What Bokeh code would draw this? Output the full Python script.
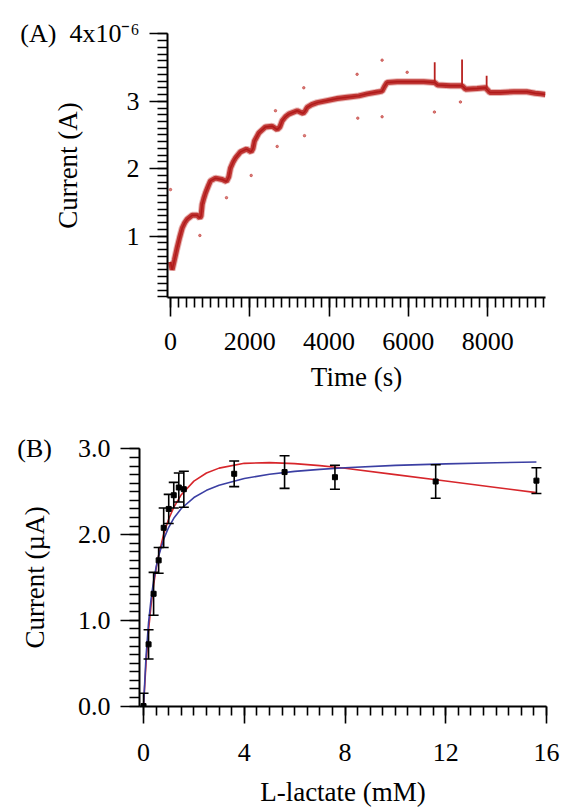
from bokeh.plotting import figure
from bokeh.models import SingleIntervalTicker, Range1d, NumeralTickFormatter
from bokeh.embed import file_html
from bokeh.resources import INLINE

FONT = "Liberation Serif"

# ---------------- Panel A: amperometric trace ----------------
time_s = [0, 40, 100, 168, 230, 295, 360, 420, 547, 673, 740, 770, 799, 840, 883, 950,
          1009, 1135, 1303, 1412, 1470, 1513, 1580, 1639, 1765, 1917, 2035, 2080, 2118,
          2228, 2396, 2565, 2691, 2760, 2817, 2900, 2984, 3195, 3346, 3400, 3447, 3560,
          3699, 3951, 4204, 4456, 4750, 4960, 5253, 5338, 5400, 5464, 5717, 6053, 6389,
          6641, 6680, 6742, 7062, 7331, 7375, 7440, 7735, 7944, 8010,
          8053, 8323, 8659, 8995, 9200, 9330, 9457]
current_uA = [0.62, 0.50, 0.65, 0.83, 0.98, 1.12, 1.20, 1.25, 1.31, 1.31, 1.27, 1.30,
              1.47, 1.56, 1.64, 1.74, 1.82, 1.86, 1.84, 1.81, 1.88, 2.01, 2.10, 2.16,
              2.25, 2.29, 2.25, 2.30, 2.41, 2.53, 2.62, 2.63, 2.58, 2.62, 2.71, 2.77,
              2.81, 2.86, 2.82, 2.86, 2.91, 2.95, 2.98, 3.01, 3.04, 3.06, 3.08, 3.11,
              3.14, 3.15, 3.22, 3.28, 3.29, 3.29, 3.29, 3.28, 3.27, 3.24, 3.23,
              3.23, 3.22, 3.18, 3.19, 3.20, 3.16, 3.13, 3.13, 3.14, 3.14,
              3.12, 3.11, 3.10]
# sharp injection spikes
spike_t = [6665, 7355, 7975]
spike_base = [3.28, 3.23, 3.20]
spike_top = [3.58, 3.62, 3.38]
# scattered outlier samples
out_t = [0, 740, 1412, 2035, 2648, 2691, 3362, 3380, 4707, 4724, 5338, 5338, 5970, 6658, 7314]
out_v = [1.69, 1.01, 1.57, 1.90, 2.86, 2.33, 3.20, 2.49, 3.40, 2.75, 3.61, 2.77, 3.43, 2.84, 2.99]

# ---------------- Panel B: calibration ----------------
conc_mM = [0, 0.2, 0.4, 0.6, 0.8, 1.0, 1.2, 1.4, 1.6, 3.6, 5.6, 7.6, 11.6, 15.6]
resp_uA = [0.0, 0.72, 1.31, 1.70, 2.08, 2.30, 2.46, 2.55, 2.53, 2.71, 2.73, 2.67, 2.62, 2.63]
err_uA = [0.15, 0.17, 0.25, 0.15, 0.23, 0.17, 0.15, 0.17, 0.21, 0.15, 0.19, 0.14, 0.195, 0.15]

fit_x = [0, 0.1, 0.2, 0.3, 0.4, 0.5, 0.6, 0.8, 1.0, 1.2, 1.5, 2.0, 2.5, 3.0, 4.0, 5.0,
         6.0, 7.0, 8.0, 10.0, 12.0, 14.0, 15.6]
fit_red = [0, 0.507, 0.886, 1.180, 1.414, 1.604, 1.761, 2.004, 2.183, 2.318, 2.466, 2.624,
           2.719, 2.776, 2.832, 2.840, 2.828, 2.805, 2.775, 2.700, 2.625, 2.550, 2.490]
fit_blue = [0, 0.584, 0.973, 1.251, 1.460, 1.622, 1.752, 1.947, 2.086, 2.190, 2.305, 2.433,
            2.517, 2.576, 2.655, 2.704, 2.738, 2.762, 2.781, 2.808, 2.826, 2.839, 2.847]

A_TOP_LABEL = "(A)\u00a0\u00a04x10\u207b\u2076"
B_TOP_LABEL = "(B)\u20033.0"


def style_axes(p):
    for ax in (p.xaxis[0], p.yaxis[0]):
        ax.axis_line_width = 2
        ax.axis_line_color = "black"
        ax.major_tick_line_width = 1.6
        ax.minor_tick_line_width = 1.6
        ax.major_tick_line_color = "black"
        ax.minor_tick_line_color = "black"
        ax.major_tick_in = 0
        ax.minor_tick_in = 0
        ax.major_label_text_font = FONT
        ax.major_label_text_font_size = "26px"
        ax.major_label_text_color = "black"
        ax.axis_label_text_font = FONT
        ax.axis_label_text_font_size = "27px"
        ax.axis_label_text_font_style = "normal"
        ax.axis_label_text_color = "black"
    p.xgrid.visible = False
    p.ygrid.visible = False
    p.outline_line_color = None


# ---- figure A ----
pA = figure(width=561, height=400, output_backend="svg", toolbar_location=None,
            x_range=Range1d(-76, 9460), y_range=Range1d(0.09, 4.005),
            min_border_left=167, min_border_right=16, min_border_top=33, min_border_bottom=103)
pA.line(time_s, current_uA, line_color="#c0302c", line_width=7, line_alpha=0.35)
pA.line(time_s, current_uA, line_color="#b8211f", line_width=5, line_alpha=0.85)
pA.line(time_s, current_uA, line_color="#b01a1a", line_width=1.5)
pA.segment(spike_t, spike_base, spike_t, spike_top, line_color="#b8211f", line_width=1.8)
pA.scatter(out_t, out_v, size=2.5, color="#c0302c", alpha=0.6)
style_axes(pA)
pA.xaxis.ticker = SingleIntervalTicker(interval=2000, num_minor_ticks=10)
pA.yaxis.ticker = SingleIntervalTicker(interval=1, num_minor_ticks=10)
pA.xaxis.major_tick_out = 19
pA.xaxis.minor_tick_out = 10
pA.yaxis.major_tick_out = 18
pA.yaxis.minor_tick_out = 10
pA.xaxis.major_label_standoff = 16
pA.yaxis.major_label_standoff = 10
pA.yaxis.major_label_overrides = {4: A_TOP_LABEL}
pA.xaxis.axis_label = "Time (s)"
pA.yaxis.axis_label = "Current (A)"
pA.xaxis.axis_label_standoff = 9
pA.yaxis.axis_label_standoff = -66

# ---- figure B ----
pB = figure(width=561, height=409, output_backend="svg", toolbar_location=None,
            x_range=Range1d(-0.16, 16.0), y_range=Range1d(-0.005, 3.005),
            min_border_left=139, min_border_right=15, min_border_top=48, min_border_bottom=102)
pB.line(fit_x, fit_red, line_color="#d7262b", line_width=1.6)
pB.line(fit_x, fit_blue, line_color="#3b3fa3", line_width=1.6)
upper = [y + e for y, e in zip(resp_uA, err_uA)]
lower = [y - e for y, e in zip(resp_uA, err_uA)]
pB.segment(conc_mM, lower, conc_mM, upper, line_color="black", line_width=1.6)
pB.scatter(conc_mM, upper, marker="dash", size=10, line_color="black", line_width=1.6)
pB.scatter(conc_mM, lower, marker="dash", size=10, line_color="black", line_width=1.6)
pB.scatter(conc_mM, resp_uA, marker="square", size=5, color="black")
style_axes(pB)
pB.xaxis.ticker = SingleIntervalTicker(interval=4, num_minor_ticks=8)
pB.yaxis.ticker = SingleIntervalTicker(interval=1, num_minor_ticks=10)
pB.yaxis.formatter = NumeralTickFormatter(format="0.0")
pB.yaxis.major_label_overrides = {3: B_TOP_LABEL}
pB.xaxis.major_tick_out = 17
pB.xaxis.minor_tick_out = 9
pB.yaxis.major_tick_out = 19
pB.yaxis.minor_tick_out = 10
pB.xaxis.major_label_standoff = 20
pB.yaxis.major_label_standoff = 10
pB.xaxis.axis_label = "L-lactate (mM)"
pB.yaxis.axis_label = "Current (\u00b5A)"
pB.xaxis.axis_label_standoff = 13
pB.yaxis.axis_label_standoff = -36

open("out.html", "w").write(file_html([pA, pB], INLINE))
